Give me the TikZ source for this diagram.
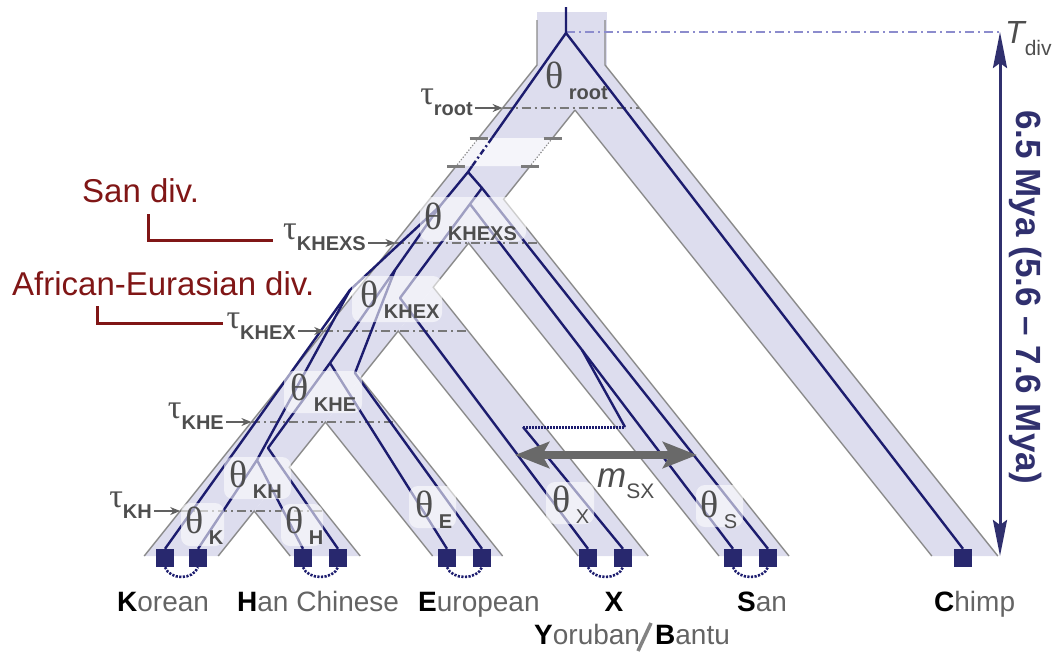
\documentclass[tikz,border=0pt]{standalone}
\usepackage{fontspec}
\setmainfont{Liberation Sans}
\newfontfamily\grkfont{Liberation Serif}
\usetikzlibrary{arrows.meta,calc}

\definecolor{bandfill}{RGB}{221,221,238}
\definecolor{edgegray}{RGB}{138,138,138}
\definecolor{navy}{RGB}{28,28,110}
\definecolor{sqnavy}{RGB}{40,40,110}
\definecolor{labgray}{RGB}{78,78,78}
\definecolor{leafgray}{RGB}{100,100,100}
\definecolor{divred}{RGB}{128,22,22}
\definecolor{myanavy}{RGB}{48,48,110}
\definecolor{tdivline}{RGB}{140,140,205}
\definecolor{taugray}{RGB}{120,120,120}
\definecolor{miggray}{RGB}{105,105,105}

\newcommand{\thfont}{\grkfont\fontsize{38}{40}\selectfont}
\newcommand{\tafont}{\grkfont\fontsize{34}{36}\selectfont}
\newcommand{\sbfont}{\fontsize{20}{22}\selectfont\bfseries}
\newcommand{\sbreg}{\fontsize{20}{22}\selectfont}
\newcommand{\thlab}[2][\sbfont]{{\thfont θ}\raisebox{-11pt}{#1 #2}}
\newcommand{\taulab}[1]{{\tafont τ}\raisebox{-11pt}{\sbfont #1}}
\newcommand{\leaflab}[2]{\textbf{\color{black}#1}#2}

\begin{document}
\begin{tikzpicture}[x=1pt,y=-1pt,
  band/.style={fill=bandfill,draw=none},
  edge/.style={draw=edgegray,line width=1.4pt},
  edgebrk/.style={draw=edgegray,line width=1.2pt,dash pattern=on 1.2pt off 1.8pt},
  brktick/.style={draw=edgegray!90!black,line width=3pt},
  lin/.style={draw=navy,line width=2.4pt,line join=round},
  lindd/.style={draw=navy,line width=2.4pt,dash pattern=on 6pt off 3pt on 2pt off 3pt},
  migdots/.style={draw=navy,line width=3pt,dash pattern=on 1.6pt off 1.4pt},
  arcdots/.style={draw=navy,line width=2.6pt,dash pattern=on 2.2pt off 1.4pt},
  tauline/.style={draw=taugray,line width=1.5pt,dash pattern=on 9pt off 4pt on 2pt off 4pt},
  tauarrow/.style={draw=taugray!80!black,line width=1.5pt,-{Stealth[length=10pt,width=8pt]}},
  tdivln/.style={draw=tdivline,line width=1.4pt,dash pattern=on 9pt off 4pt on 2pt off 4pt},
  thbox/.style={fill=white,fill opacity=0.58,rounded corners=9pt,draw=none},
  sq/.style={fill=sqnavy,draw=none,minimum size=18pt,inner sep=0pt},
  thetalab/.style={text=labgray,inner sep=0pt,anchor=base west},
  taulabel/.style={text=labgray,inner sep=0pt,anchor=base east},
  leaf/.style={text=leafgray,inner sep=0pt,anchor=base west,font=\fontsize{28}{30}\selectfont},
  divlab/.style={text=divred,inner sep=0pt,anchor=base west,font=\fontsize{33}{35}\selectfont},
  divline/.style={draw=divred,line width=3pt},
  myaarrow/.style={draw=myanavy,line width=3pt,
    {Stealth[length=36pt,width=14pt,inset=5pt]}-{Stealth[length=36pt,width=14pt,inset=5pt]}},
  migarrow/.style={draw=miggray,line width=8pt,
    {Stealth[length=34pt,width=26pt,inset=7pt]}-{Stealth[length=34pt,width=26pt,inset=7pt]}}
]
\useasboundingbox (0,0) rectangle (1055,654);

% ---------- population bands ----------
\fill[band] (537,12) rectangle (607,66);
\fill[band] (537,65) -- (605,65) -- (575,110) -- (218.2,556) -- (144.2,556) -- cycle;
\fill[band] (605,65) -- (997.8,556) -- (931.8,556) -- (575,110) -- cycle;
\fill[band] (503.6,199.25) -- (789,556) -- (719,556) -- (468.6,243) -- cycle;
\fill[band] (433.2,287.25) -- (648.2,556) -- (578.2,556) -- (398.2,331) -- cycle;
\fill[band] (360.4,378.25) -- (502.6,556) -- (432.6,556) -- (325.4,422) -- cycle;
\fill[band] (289.2,467.25) -- (360.2,556) -- (290.2,556) -- (254.2,511) -- cycle;

% time break on the ancestral branch
\fill[white,opacity=0.72] (478.6,138) -- (552.6,138) -- (530.2,166) -- (456.2,166) -- cycle;

% band outlines
\draw[edge] (537,20) -- (537,65) -- (478.6,138);
\draw[edgebrk] (478.6,138) -- (456.2,166);
\draw[edge] (456.2,166) -- (144.2,556);
\draw[edge] (605,20) -- (605,65) -- (997.8,556);
\draw[edge] (575,110) -- (931.8,556);
\draw[edge] (575,110) -- (552.6,138);
\draw[edgebrk] (552.6,138) -- (530.2,166);
\draw[edge] (530.2,166) -- (503.6,199.25) -- (789,556);
\draw[edge] (719,556) -- (468.6,243) -- (433.2,287.25) -- (648.2,556);
\draw[edge] (578.2,556) -- (398.2,331) -- (360.4,378.25) -- (502.6,556);
\draw[edge] (432.6,556) -- (325.4,422) -- (289.2,467.25) -- (360.2,556);
\draw[edge] (290.2,556) -- (254.2,511) -- (218.2,556);

% break ticks
\draw[brktick] (469.6,138) -- (487.6,138);
\draw[brktick] (543.6,138) -- (561.6,138);
\draw[brktick] (447.2,166) -- (465.2,166);
\draw[brktick] (521.2,166) -- (539.2,166);

% ---------- divergence times ----------
\coordinate (eroot) at (502.6,108);   \coordinate (eroot2) at (639.4,108);
\coordinate (ekhexs) at (395.4,243);  \coordinate (ekhexs2) at (537.8,243);
\coordinate (ekhex) at (324.2,331);   \coordinate (ekhex2) at (468.2,331);
\coordinate (ekhe) at (251.4,422);    \coordinate (ekhe2) at (395.4,422);
\coordinate (ekh) at (180.2,511);     \coordinate (ekh2) at (324.2,511);
\draw[tauline] (eroot) -- (eroot2);
\draw[tauline] (ekhexs) -- (ekhexs2);
\draw[tauline] (ekhex) -- (ekhex2);
\draw[tauline] (ekhe) -- (ekhe2);
\draw[tauline] (ekh) -- (ekh2);

\coordinate (tdtop) at (1000,32);
\coordinate (tdbot) at (1000,556);
\coordinate (tdleft) at (566,32);
\draw[tdivln] (tdleft) -- (tdtop);

% ---------- sampled genomes ----------
\node[sq] (k1) at (165,558) {};
\node[sq] (k2) at (198,558) {};
\node[sq] (h1) at (303,558) {};
\node[sq] (h2) at (338,558) {};
\node[sq] (e1) at (447,558) {};
\node[sq] (e2) at (482,558) {};
\node[sq] (x1) at (588,558) {};
\node[sq] (x2) at (623,558) {};
\node[sq] (s1) at (733,558) {};
\node[sq] (s2) at (768,558) {};
\node[sq] (ch) at (963,558) {};

% ---------- genealogy ----------
\coordinate (rtop) at (566,7);
\coordinate (r0) at (566,33);
\coordinate (brkA) at (492,138);
\coordinate (brkB) at (472.2,166);
\coordinate (a) at (468,172);
\coordinate (b) at (482,188);
\coordinate (p) at (470,204);
\coordinate (xturn) at (400,298);
\coordinate (mj) at (582,350);
\coordinate (mx) at (523,427);
\coordinate (ms) at (625,427);
\coordinate (j3) at (440,206);
\coordinate (j2) at (395,270);
\coordinate (j1) at (350,290);
\coordinate (n1) at (257,460);
\coordinate (n2) at (330,363);
\coordinate (hturn) at (268,448);
\coordinate (eturn) at (355,373);

\draw[lin] (rtop) -- (r0) -- (ch.north);
\draw[lin] (r0) -- (brkA);
\draw[lindd] (brkA) -- (brkB);
\draw[lin] (brkB) -- (a) -- (b) -- (s2.north);
\draw[lin] (b) -- (p) -- (mj) -- (s1.north);
\draw[lin] (p) -- (xturn) -- (x1.north);
\draw[lin] (x2.north) -- (mx);
\draw[migdots] (mx) -- (ms);
\draw[lin] (ms) -- (mj);
\draw[lin] (a) -- (j3) -- (j1) -- (k1.north);
\draw[lin] (j3) -- (j2) -- (n2) -- (e1.north);
\draw[lin] (j2) -- (eturn) -- (e2.north);
\draw[lin] (n2) -- (hturn) -- (h2.north);
\draw[lin] (j1) -- (n1) -- (k2.north);
\draw[lin] (n1) -- (h1.north);

% pairs of genomes per individual
\foreach \u/\v in {k1/k2,h1/h2,e1/e2,x1/x2,s1/s2}
  \draw[arcdots] (\u.south) .. controls +(5,13) and +(-5,13) .. (\v.south);

% ---------- population size labels ----------
\fill[thbox] (420,197) rectangle (526,241);
\fill[thbox] (352,276) rectangle (442,322);
\fill[thbox] (284,371) rectangle (362,413);
\fill[thbox] (224,457) rectangle (291,499);
\fill[thbox] (181,503) rectangle (224,546);
\fill[thbox] (281,504) rectangle (323,546);
\fill[thbox] (409,486) rectangle (456,528);
\fill[thbox] (546,482) rectangle (594,524);
\fill[thbox] (696,485) rectangle (743,527);

\node[thetalab] (throot) at (545,88) {\thlab{root}};
\node[thetalab] (thkhexs) at (424,229) {\thlab{KHEXS}};
\node[thetalab] (thkhex) at (360,307) {\thlab{KHEX}};
\node[thetalab] (thkhe) at (290,400) {\thlab{KHE}};
\node[thetalab] (thkh) at (229,487) {\thlab{KH}};
\node[thetalab] (thk) at (185,533) {\thlab{K}};
\node[thetalab] (thh) at (285,533) {\thlab{H}};
\node[thetalab] (the) at (415,517) {\thlab{E}};
\node[thetalab] (thx) at (552,512) {\thlab[\sbreg]{X}};
\node[thetalab] (ths) at (700,517) {\thlab[\sbreg]{S}};

% ---------- divergence time labels ----------
\node[taulabel] (troot) at (473,104) {\taulab{root}};
\node[taulabel] (tkhexs) at (366,239) {\taulab{KHEXS}};
\node[taulabel] (tkhex) at (296,328) {\taulab{KHEX}};
\node[taulabel] (tkhe) at (224,418) {\taulab{KHE}};
\node[taulabel] (tkh) at (152,507) {\taulab{KH}};
\foreach \t/\e in {troot/eroot,tkhexs/ekhexs,tkhex/ekhex,tkhe/ekhe,tkh/ekh}{
  \path ([xshift=2pt]\t.base east) coordinate (\t0);
  \draw[tauarrow] (\t0 |- \e) -- (\e);
}

% ---------- divergence annotations ----------
\node[divlab] (sandiv) at (82,202) {San div.};
\node[divlab] (afdiv) at (12,295) {African-Eurasian div.};
\coordinate (sanA) at (148,214);
\coordinate (sanB) at (273,240);
\coordinate (afA) at (97,306);
\coordinate (afB) at (223,323);
\draw[divline] (sanA) |- (sanB);
\draw[divline] (afA) |- (afB);

% ---------- migration band ----------
\coordinate (mgl) at (515,455);
\coordinate (mgr) at (697,455);
\draw[migarrow] (mgl) -- (mgr);
\node[text=labgray,inner sep=0pt,anchor=base west] (msx) at (597,487)
  {\fontsize{35}{36}\selectfont\itshape m\raisebox{-11pt}{\upshape\fontsize{21}{22}\selectfont SX}};

% ---------- human-chimp divergence ----------
\draw[myaarrow] (tdbot) -- (tdtop);
\node[text=labgray,inner sep=0pt,anchor=base west] (tdiv) at (1005,43)
  {\fontsize{32}{34}\selectfont\itshape T\raisebox{-12pt}{\upshape\fontsize{21}{22}\selectfont div}};
\node[rotate=-90,text=myanavy,inner sep=0pt,font=\bfseries\fontsize{35}{36}\selectfont] (mya)
  at (1026,297) {6.5 Mya (5.6 – 7.6 Mya)};

% ---------- population names ----------
\node[leaf] (lk) at (117,611) {\leaflab{K}{orean}};
\node[leaf] (lh) at (237,611) {\leaflab{H}{an Chinese}};
\node[leaf] (le) at (418,611) {\leaflab{E}{uropean}};
\node[leaf,anchor=base] (lx) at (614,611) {\leaflab{X}{}};
\node[leaf] (ls) at (737,611) {\leaflab{S}{an}};
\node[leaf] (lc) at (934,611) {\leaflab{C}{himp}};
\node[leaf] (ly) at (534,644) {\leaflab{Y}{oruban}};
\node[leaf] (lb) at (655,644) {\leaflab{B}{antu}};
\coordinate (slA) at (638,651);
\coordinate (slB) at (651,623);
\draw[draw=leafgray!80,line width=3.5pt] (slA) -- (slB);

\end{tikzpicture}
\end{document}
